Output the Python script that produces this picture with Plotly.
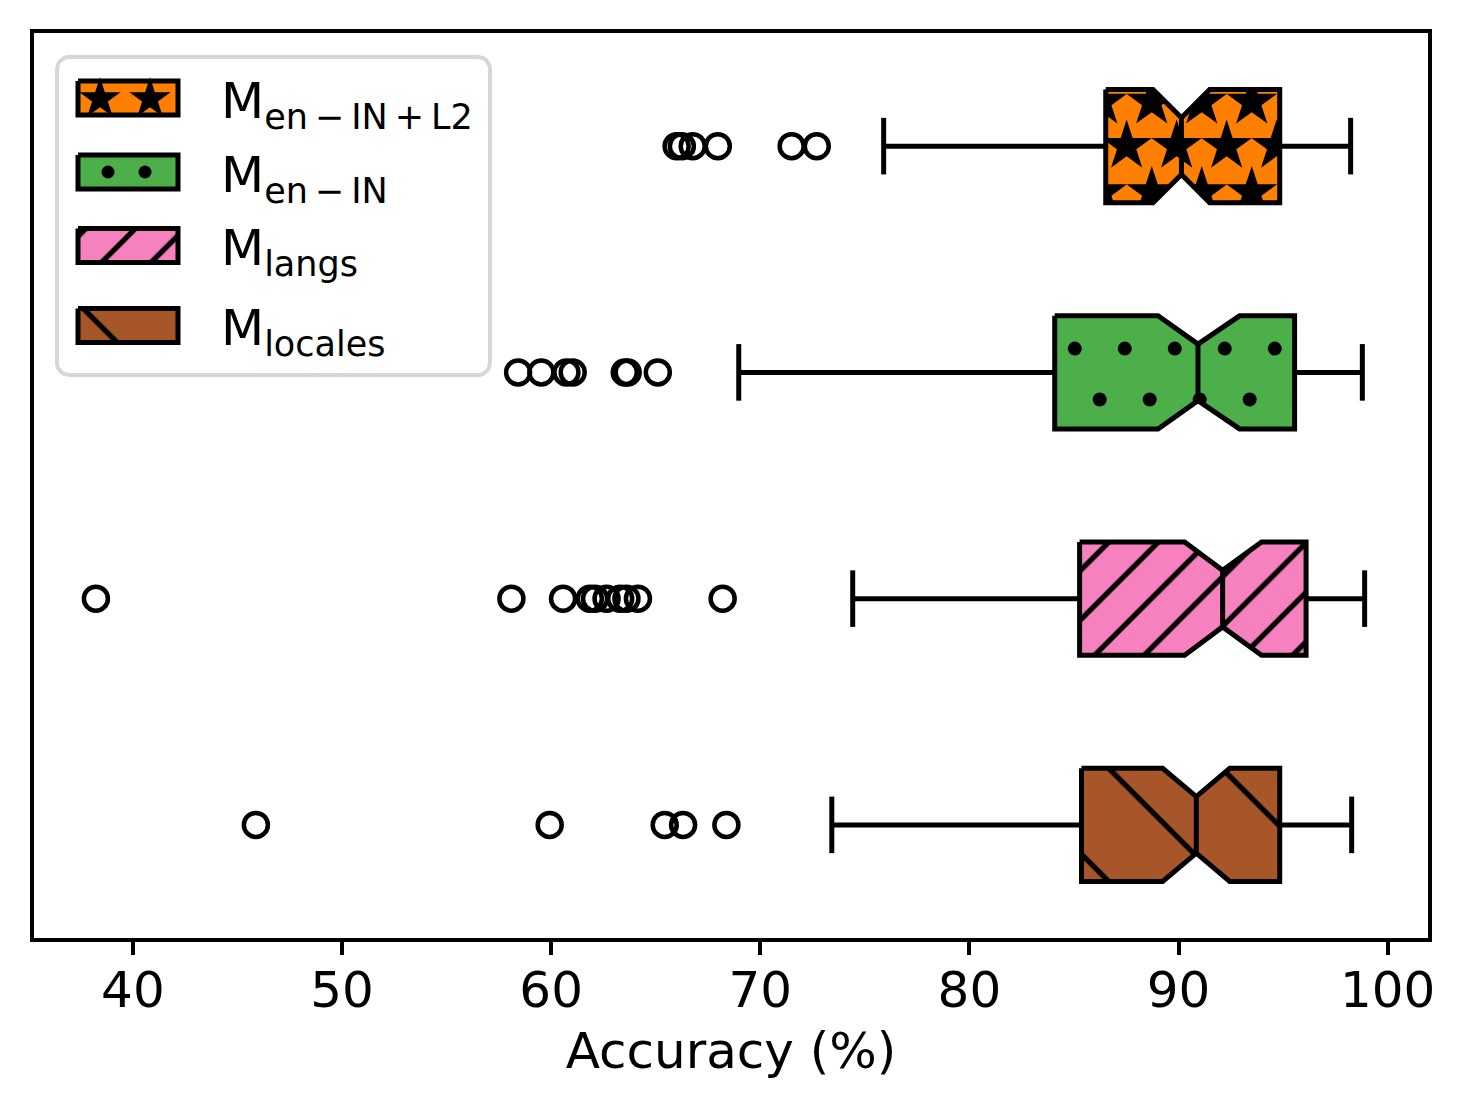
import numpy as np
import plotly.graph_objects as go

# ---------------- data ----------------
labels = ["M<sub>en\u2009−\u2009IN\u2009+\u2009L2</sub>", "M<sub>en\u2009−\u2009IN</sub>",
          "M<sub>langs</sub>", "M<sub>locales</sub>"]
positions = [1, 2, 3, 4]
q1 = [86.52, 84.08, 85.27, 85.36]
median = [90.14, 90.93, 92.11, 90.85]
q3 = [94.84, 95.55, 96.10, 94.84]
notch_lo = [88.78, 89.02, 90.29, 89.24]
notch_hi = [91.49, 92.92, 93.97, 92.45]
whisker_lo = [75.90, 68.97, 74.42, 73.42]
whisker_hi = [98.23, 98.79, 98.90, 98.28]
outliers = [
    [66.00, 66.25, 66.77, 67.97, 71.50, 72.70],
    [58.42, 59.53, 60.73, 61.03, 63.52, 63.66, 65.10],
    [38.23, 58.10, 60.57, 61.85, 62.10, 62.65, 63.30, 63.60, 64.15, 68.20],
    [45.88, 59.93, 65.43, 66.31, 68.38],
]
x_ticks = [40, 50, 60, 70, 80, 90, 100]

# ---------------- style ----------------
colors = ["#FF7F00", "#4DAF4A", "#F781BF", "#A65628"]
FONT = "DejaVu Sans"
OFF = 8                     # page body margin
W, H = 1464 - 2 * OFF, 1111 - 2 * OFF
ML, MT = 34 - OFF, 33 - OFF
MR = W - (1428 - OFF)
MB = H - (938 - OFF)
XR = [35.27, 101.93]
YR = [4.5, 0.5]
plot_w = W - ML - MR
plot_h = H - MT - MB
px_x = plot_w / (XR[1] - XR[0])   # px per data unit
HW = 0.25          # box half width
LW = 5             # box line width
CAP = 0.125

fig = go.Figure()


def box_poly(i):
    y = positions[i]
    xs = [q1[i], notch_lo[i], median[i], notch_hi[i], q3[i], q3[i], notch_hi[i], median[i], notch_lo[i], q1[i], q1[i]]
    ys = [y - HW, y - HW, y - HW / 2, y - HW, y - HW, y + HW, y + HW, y + HW / 2, y + HW, y + HW, y - HW]
    return xs, ys


# 1) box fills (pattern fills for pink / brown)
patterns = [None, None, dict(shape="/", size=35, solidity=0.15), dict(shape="\\", size=80, solidity=0.065)]
for i in range(4):
    xs, ys = box_poly(i)
    kw = {}
    if patterns[i] is not None:
        p = dict(patterns[i])
        p.update(fgcolor="black", bgcolor=colors[i], fillmode="replace")
        kw["fillpattern"] = p
    fig.add_trace(go.Scatter(x=xs, y=ys, mode="lines", fill="toself", fillcolor=colors[i],
                             line=dict(width=0), hoverinfo="skip", showlegend=False, **kw))

# 2) marker hatches (stars for orange, dots for green), clipped afterwards with white masks
step = 50 / px_x
hatch_specs = [
    (0, "star", 38, [(-0.195, 88.72), (0.0, 87.52), (0.205, 88.72)]),
    (1, "circle", 14, [(-0.105, 85.04), (0.12, 86.23)]),
]
for i, sym, size, rows in hatch_specs:
    hx, hy = [], []
    for dy, phase in rows:
        xs = phase + step * np.arange(-4, 8)
        xs = xs[(xs > q1[i] - 1.0) & (xs < q3[i] + 1.0)]
        hx += list(xs)
        hy += [positions[i] + dy] * len(xs)
    fig.add_trace(go.Scatter(x=hx, y=hy, mode="markers",
                             marker=dict(symbol=sym, size=size, color="black", line=dict(width=0)),
                             hoverinfo="skip", showlegend=False))

# 3) white masks outside the notched boxes (for marker hatches)
MX, MY = 2.3, 0.16
for i in range(2):
    y = positions[i]
    for s in (-1, 1):
        xs = [q1[i] - MX, q3[i] + MX, q3[i] + MX, q3[i], q3[i], notch_hi[i], median[i], notch_lo[i], q1[i], q1[i], q1[i] - MX, q1[i] - MX]
        ys = [y + s * (HW + MY), y + s * (HW + MY), y, y, y + s * HW, y + s * HW, y + s * HW / 2, y + s * HW, y + s * HW, y, y, y + s * (HW + MY)]
        fig.add_trace(go.Scatter(x=xs, y=ys, mode="lines", fill="toself", fillcolor="white",
                                 line=dict(width=0), hoverinfo="skip", showlegend=False))

# 4) whiskers and caps
wx, wy = [], []
for i in range(4):
    y = positions[i]
    wx += [whisker_lo[i], q1[i], None, q3[i], whisker_hi[i], None,
           whisker_lo[i], whisker_lo[i], None, whisker_hi[i], whisker_hi[i], None]
    wy += [y, y, None, y, y, None, y - CAP, y + CAP, None, y - CAP, y + CAP, None]
fig.add_trace(go.Scatter(x=wx, y=wy, mode="lines", line=dict(color="black", width=LW),
                         hoverinfo="skip", showlegend=False))

# 5) box outlines and medians
for i in range(4):
    xs, ys = box_poly(i)
    fig.add_trace(go.Scatter(x=xs, y=ys, mode="lines", line=dict(color="black", width=LW),
                             hoverinfo="skip", showlegend=False))
    y = positions[i]
    fig.add_trace(go.Scatter(x=[median[i], median[i]], y=[y - HW / 2, y + HW / 2], mode="lines",
                             line=dict(color="black", width=LW), hoverinfo="skip", showlegend=False))

# 6) outliers
for i in range(4):
    fig.add_trace(go.Scatter(x=outliers[i], y=[positions[i]] * len(outliers[i]), mode="markers",
                             marker=dict(symbol="circle-open", size=24, color="black", line=dict(width=4.5)),
                             hoverinfo="skip", showlegend=False))


# ---------------- legend (drawn on an overlay axis spanning the plot area) ----------------
def fx(px):
    return (px - OFF - ML) / plot_w


def fy(py):
    return 1 - (py - OFF - MT) / plot_h


x0, x1, y0, y1 = 57, 490, 57, 375
r = 12
fxs, fys = [], []
corners = [(x1 - r, y0 + r, -90, 0), (x1 - r, y1 - r, 0, 90), (x0 + r, y1 - r, 90, 180), (x0 + r, y0 + r, 180, 270)]
for cx, cy, a0, a1 in corners:
    for a in np.linspace(np.radians(a0), np.radians(a1), 8):
        fxs.append(fx(cx + r * np.cos(a)))
        fys.append(fy(cy + r * np.sin(a)))
fxs.append(fxs[0]); fys.append(fys[0])
fig.add_trace(go.Scatter(x=fxs, y=fys, mode="lines", fill="toself", fillcolor="white",
                         line=dict(color="#d6d6d6", width=4), xaxis="x2", yaxis="y2",
                         hoverinfo="skip", showlegend=False))

row_centers = [98, 172, 245.5, 325.5]
px0, px1, ph = 78, 178, 17
for i in range(4):
    cy = row_centers[i]
    xs = [fx(px0), fx(px1), fx(px1), fx(px0), fx(px0)]
    ys = [fy(cy - ph), fy(cy - ph), fy(cy + ph), fy(cy + ph), fy(cy - ph)]
    kw = {}
    if patterns[i] is not None:
        p = dict(patterns[i])
        p.update(fgcolor="black", bgcolor=colors[i], fillmode="replace")
        kw["fillpattern"] = p
    fig.add_trace(go.Scatter(x=xs, y=ys, mode="lines", fill="toself", fillcolor=colors[i],
                             line=dict(width=0), xaxis="x2", yaxis="y2", hoverinfo="skip",
                             showlegend=False, **kw))
    if i == 0:
        fig.add_trace(go.Scatter(x=[fx(100), fx(150)], y=[fy(cy + 1)] * 2, mode="markers",
                                 marker=dict(symbol="star", size=31, color="black", line=dict(width=0)),
                                 xaxis="x2", yaxis="y2", hoverinfo="skip", showlegend=False))
    if i == 1:
        fig.add_trace(go.Scatter(x=[fx(108), fx(145)], y=[fy(cy)] * 2, mode="markers",
                                 marker=dict(symbol="circle", size=13, color="black", line=dict(width=0)),
                                 xaxis="x2", yaxis="y2", hoverinfo="skip", showlegend=False))
    fig.add_trace(go.Scatter(x=xs, y=ys, mode="lines", line=dict(color="black", width=LW),
                             xaxis="x2", yaxis="y2", hoverinfo="skip", showlegend=False))
    fig.add_annotation(x=fx(219), y=fy(cy + 6), xref="paper", yref="paper", text=labels[i],
                       showarrow=False, xanchor="left", yanchor="middle",
                       font=dict(family=FONT, size=50, color="black"))

fig.update_layout(
    width=W, height=H,
    margin=dict(l=ML, r=MR, t=MT, b=MB),
    paper_bgcolor="white", plot_bgcolor="white",
    font=dict(family=FONT, size=50, color="black"),
    showlegend=False,
    xaxis=dict(range=XR, tickvals=x_ticks, ticks="outside", ticklen=13, tickwidth=4, tickcolor="black",
               showgrid=False, zeroline=False, showline=True, linecolor="black", linewidth=4, mirror=True,
               tickfont=dict(family=FONT, size=50), ticklabelstandoff=-8,
               title=dict(text="Accuracy (%)", font=dict(family=FONT, size=50), standoff=16)),
    yaxis=dict(range=YR, showticklabels=False, ticks="", showgrid=False, zeroline=False,
               showline=True, linecolor="black", linewidth=4, mirror=True),
    xaxis2=dict(range=[0, 1], overlaying="x", visible=False, fixedrange=True),
    yaxis2=dict(range=[0, 1], overlaying="y", visible=False, fixedrange=True),
)

fig.write_html("out.html")
